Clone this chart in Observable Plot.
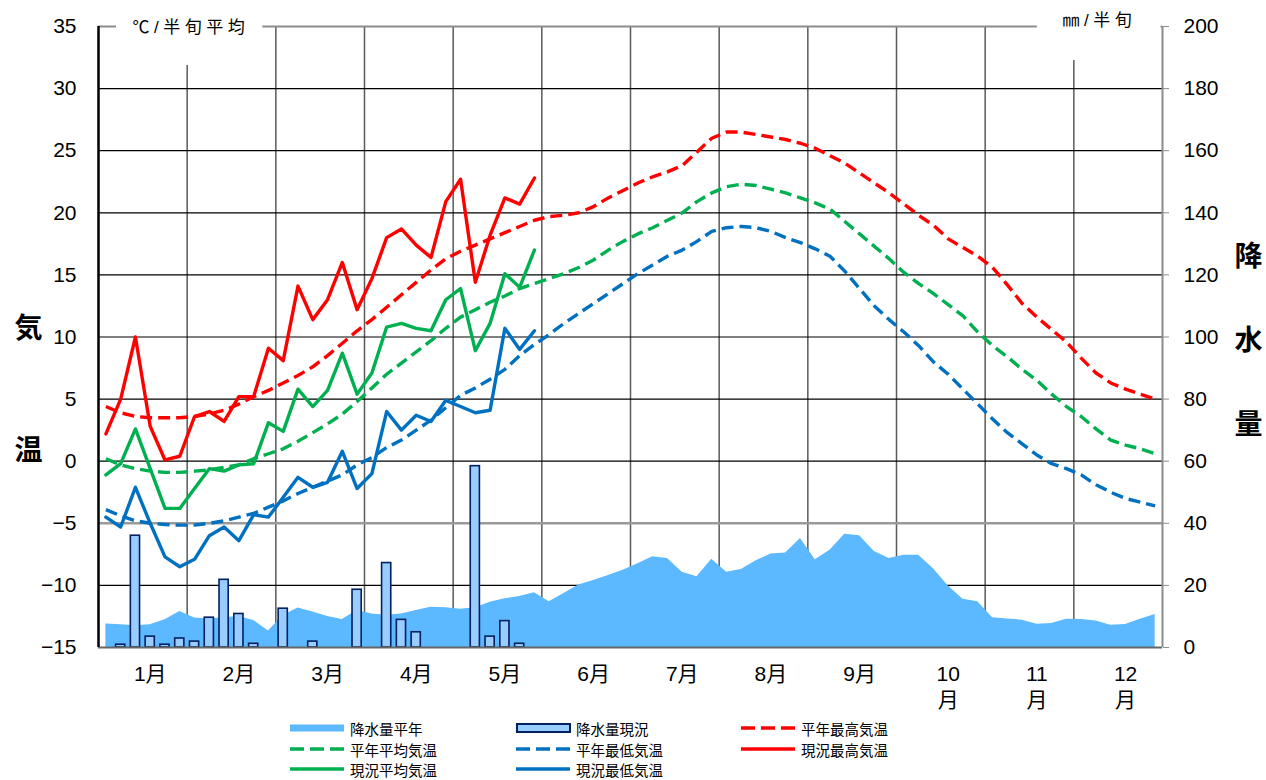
<!DOCTYPE html>
<html><head><meta charset="utf-8">
<script src="https://cdn.jsdelivr.net/npm/d3@7"></script>
<script src="https://cdn.jsdelivr.net/npm/@observablehq/plot@0.6"></script>
<style>
html,body{margin:0;padding:0;background:#fff;}
#wrap{position:relative;width:1266px;height:780px;overflow:hidden;background:#fff;}
#chart{position:absolute;left:0;top:0;}
.lg{position:absolute;font-family:'Noto Sans CJK JP',sans-serif;font-size:14.5px;line-height:15px;color:#000;white-space:nowrap;}
.sw{position:absolute;display:block;}
</style></head>
<body><div id="wrap"><div id="chart"></div><div id="legend"></div></div>
<script>
// ---- data (half-month = pentad values, 72 per year) ----
const monthLabels = ["1月","2月","3月","4月","5月","6月","7月","8月","9月","10\n月","11\n月","12\n月"];
const tempTicks = [-15,-10,-5,0,5,10,15,20,25,30,35];
const precipTicks = [0,20,40,60,80,100,120,140,160,180,200];

const normalMax = [4.4,3.9,3.6,3.5,3.5,3.5,3.6,3.8,4.1,4.6,
  5.2,5.7,6.3,6.9,7.6,8.5,9.5,10.5,11.4,12.4,
  13.4,14.4,15.4,16.3,16.9,17.4,17.9,18.4,18.9,19.4,
  19.7,19.8,20.0,20.5,21.2,21.8,22.4,22.9,23.3,23.8,
  24.9,26.0,26.5,26.5,26.3,26.1,25.9,25.6,25.2,24.6,
  24.0,23.2,22.4,21.6,20.7,19.8,19.0,17.9,17.2,16.5,
  15.6,14.2,12.7,11.6,10.6,9.6,8.3,7.1,6.3,5.8,
  5.4,5.0];
const normalMean = [0.2,-0.3,-0.6,-0.8,-0.9,-0.9,-0.8,-0.7,-0.5,-0.3,
  0.2,0.6,1.0,1.6,2.3,3.0,3.8,4.8,5.9,7.0,
  7.9,8.8,9.7,10.7,11.6,12.2,12.8,13.3,13.9,14.3,
  14.7,15.1,15.6,16.2,17.0,17.7,18.3,18.8,19.4,20.0,
  20.9,21.6,22.1,22.3,22.2,21.9,21.6,21.2,20.8,20.3,
  19.3,18.3,17.3,16.3,15.2,14.3,13.5,12.6,11.7,10.4,
  9.3,8.4,7.4,6.5,5.4,4.4,3.6,2.6,1.7,1.3,
  1.0,0.6];
const normalMin = [-3.9,-4.4,-4.8,-5.0,-5.1,-5.15,-5.15,-5.0,-4.8,-4.5,
  -4.2,-3.7,-3.2,-2.6,-2.1,-1.6,-1.1,-0.3,0.3,1.1,
  1.7,2.5,3.3,4.3,5.3,5.9,6.6,7.4,8.5,9.4,
  10.2,11.1,11.9,12.7,13.5,14.3,15.1,15.8,16.5,17.0,
  17.7,18.5,18.8,18.9,18.8,18.5,18.0,17.6,17.1,16.5,
  15.3,13.9,12.5,11.4,10.4,9.3,8.0,7.0,5.8,4.6,
  3.4,2.3,1.4,0.5,-0.2,-0.6,-1.1,-1.9,-2.5,-3.0,
  -3.3,-3.6];
const precipNormal = [7.6,7.3,7.0,7.3,8.9,11.6,9.5,9.2,9.6,10.0,
  8.7,5.3,10.3,12.7,11.4,10.0,9.0,11.9,10.8,10.4,
  10.8,11.9,13.0,12.8,12.3,12.8,14.6,15.7,16.4,17.6,
  14.7,17.4,20.1,21.6,23.2,24.9,27.0,29.2,28.7,24.2,
  22.8,28.4,24.2,25.1,27.9,30.1,30.4,35.1,28.3,31.3,
  36.5,36.0,30.9,28.7,29.7,29.7,25.4,19.8,15.5,14.7,
  9.6,9.2,8.8,7.5,7.7,9.1,9.0,8.5,7.2,7.4,
  9.1,10.6];

const currentMax = [2.2,5.0,10.0,2.8,0.1,0.4,3.6,4.0,3.2,5.2,
  5.2,9.1,8.1,14.1,11.4,13.0,16.0,12.2,14.7,18.0,
  18.7,17.4,16.4,20.9,22.7,14.4,18.2,21.2,20.7,22.8];
const currentMean = [-1.1,-0.2,2.6,-0.6,-3.8,-3.8,-2.2,-0.6,-0.8,-0.3,
  -0.2,3.1,2.4,5.8,4.4,5.7,8.7,5.4,7.1,10.8,
  11.1,10.7,10.5,13.0,13.9,8.9,11.1,15.1,14.0,17.0];
const currentMin = [-4.5,-5.3,-2.1,-5.0,-7.7,-8.5,-7.9,-6.0,-5.3,-6.4,
  -4.3,-4.5,-2.9,-1.3,-2.1,-1.7,0.8,-2.2,-1.0,4.0,
  2.5,3.7,3.2,4.9,4.4,3.9,4.1,10.7,9.0,10.5];
const precipCurrent = [0,0.9,36.0,3.5,0.9,2.9,1.9,9.6,21.8,10.8,
  1.2,0,12.5,0,1.9,0,0,18.6,0,27.2,
  8.9,4.9,0,0,0,58.4,3.5,8.5,1.2,0];

// ---- styles ----
const RED = "#ff0000", GREEN = "#00b050", BLUE = "#0070c0";
const AREA = "#5cb8ff", BAR = "#99ccff", BARSTROKE = "#002060";
const FONT_NUM = "'Liberation Sans', Arial, sans-serif";
const FONT_JP = "'Liberation Sans','Noto Sans CJK JP', sans-serif";
const DASH = "12,6";

const pentads = d3.range(normalMax.length);
const curPentads = d3.range(currentMax.length);
const monthBounds = d3.range(1, 12).map(m => m * 6);
// precipitation (0..200 mm) shares the temperature scale (-15..35 °C)
const mmToT = mm => -15 + mm * 50 / 200;

const lineMark = (arr, color, dashed) => Plot.line(d3.range(arr.length), {
  x: i => i + 0.5, y: i => arr[i], stroke: color, strokeWidth: 3.4,
  strokeDasharray: dashed ? DASH : null, strokeLinecap: dashed ? "butt" : "round", strokeLinejoin: "round"
});

const chart = Plot.plot({
  width: 1266, height: 720,
  marginLeft: 98, marginRight: 104, marginTop: 26, marginBottom: 73,
  x: {domain: [0, 72], axis: null},
  y: {domain: [-15, 35], axis: null},
  style: {background: "#fff", color: "#000", fontFamily: FONT_NUM, fontSize: "21px", overflow: "visible"},
  marks: [
    Plot.ruleX(monthBounds, {stroke: "#5a5a5a", strokeWidth: 1.5}),
    Plot.ruleY(tempTicks.filter(v => v > -15 && v < 35 && v !== -5), {stroke: "#000", strokeWidth: 1.2}),
    Plot.ruleY([-5], {stroke: "#9a9a9a", strokeWidth: 2.5}),
    Plot.ruleY([35], {stroke: "#8c8c8c", strokeWidth: 2}),
    // white boxes behind the unit labels
    Plot.rect([0], {x1: 1.22, x2: 11.12, y1: 31.86, y2: 36, fill: "#fff"}),
    Plot.rect([0], {x1: 63.53, x2: 71.9, y1: 32.26, y2: 36, fill: "#fff"}),
    Plot.areaY(pentads, {x: i => i + 0.5, y1: () => -15, y2: i => mmToT(precipNormal[i]), fill: AREA, curve: "linear"}),
    Plot.rect(curPentads.filter(i => precipCurrent[i] > 0), {
      x1: i => i + 0.19, x2: i => i + 0.81, y1: () => -15, y2: i => mmToT(precipCurrent[i]),
      fill: BAR, stroke: BARSTROKE, strokeWidth: 1.6
    }),
    Plot.ruleY([-15], {stroke: "#666", strokeWidth: 2}),
    Plot.ruleX([0], {stroke: "#000", strokeWidth: 2.5}),
    Plot.ruleX([72], {stroke: "#8c8c8c", strokeWidth: 2}),
    Plot.axisY({anchor: "left", ticks: tempTicks, tickSize: 0, tickPadding: 22, fontSize: 21, fontFamily: FONT_NUM, label: null}),
    Plot.axisY({anchor: "right", ticks: tempTicks, tickFormat: v => String(precipTicks[tempTicks.indexOf(v)]),
      tickSize: 6, tickPadding: 15, stroke: "#8c8c8c", fill: "#000", fontSize: 21, fontFamily: FONT_NUM, label: null}),
    lineMark(normalMin, BLUE, true),
    lineMark(normalMean, GREEN, true),
    lineMark(normalMax, RED, true),
    lineMark(currentMin, BLUE, false),
    lineMark(currentMean, GREEN, false),
    lineMark(currentMax, RED, false),
    Plot.text(monthLabels, {x: (d, i) => i * 6 + 3.5, frameAnchor: "bottom", dy: 16, lineAnchor: "top",
      lineHeight: 1.2, fontSize: 21, fontFamily: FONT_JP, textAnchor: "middle"}),
    Plot.text(["気\n温"], {frameAnchor: "left", dx: -70, dy: 23, lineAnchor: "middle", lineHeight: 4.35,
      fontSize: 28, fontWeight: "bold", fontFamily: FONT_JP, textAnchor: "middle"}),
    Plot.text(["降\n水\n量"], {frameAnchor: "right", dx: 86, dy: -14, lineAnchor: "middle", lineHeight: 3.0,
      fontSize: 28, fontWeight: "bold", fontFamily: FONT_JP, textAnchor: "middle"}),
    Plot.text(["℃/半旬平均"], {frameAnchor: "top-left", dx: 34, dy: 1, lineAnchor: "middle", textAnchor: "start",
      fontSize: 17, fontFamily: FONT_JP}),
    Plot.text(["㎜/半旬"], {frameAnchor: "top-right", dx: -100, dy: -6, lineAnchor: "middle", textAnchor: "start",
      fontSize: 17, fontFamily: FONT_JP})
  ]
});
d3.select(chart).selectAll("text").filter(function() {
  const s = this.textContent; return s === "℃/半旬平均" || s === "㎜/半旬";
}).style("letter-spacing", "4.5px");
document.getElementById("chart").appendChild(chart);

// ---- legend ----
const legendItems = [
  {label: "降水量平年", type: "area"},
  {label: "降水量現況", type: "bar"},
  {label: "平年最高気温", type: "dash", color: RED},
  {label: "平年平均気温", type: "dash", color: GREEN},
  {label: "平年最低気温", type: "dash", color: BLUE},
  {label: "現況最高気温", type: "solid", color: RED},
  {label: "現況平均気温", type: "solid", color: GREEN},
  {label: "現況最低気温", type: "solid", color: BLUE}
];
const colX = [290, 516, 741], rowY = [728, 749, 769];
const lg = document.getElementById("legend");
legendItems.forEach((it, k) => {
  const cx = colX[k % 3], cy = rowY[Math.floor(k / 3)];
  const svg = d3.create("svg").attr("class", "sw").attr("width", 56).attr("height", 12)
    .style("left", cx + "px").style("top", (cy - 6) + "px");
  if (it.type === "area") svg.append("rect").attr("x", 0).attr("y", 2.5).attr("width", 54).attr("height", 7).attr("fill", AREA);
  else if (it.type === "bar") svg.append("rect").attr("x", 1).attr("y", 2).attr("width", 53).attr("height", 8)
    .attr("fill", BAR).attr("stroke", BARSTROKE).attr("stroke-width", 2);
  else svg.append("line").attr("x1", 0).attr("x2", 54).attr("y1", 6).attr("y2", 6).attr("stroke", it.color)
    .attr("stroke-width", 3.5).attr("stroke-dasharray", it.type === "dash" ? "14,6" : null);
  lg.appendChild(svg.node());
  const t = document.createElement("div");
  t.className = "lg"; t.textContent = it.label;
  t.style.left = (cx + 60) + "px"; t.style.top = (cy - 7.5) + "px";
  lg.appendChild(t);
});
</script></body></html>
